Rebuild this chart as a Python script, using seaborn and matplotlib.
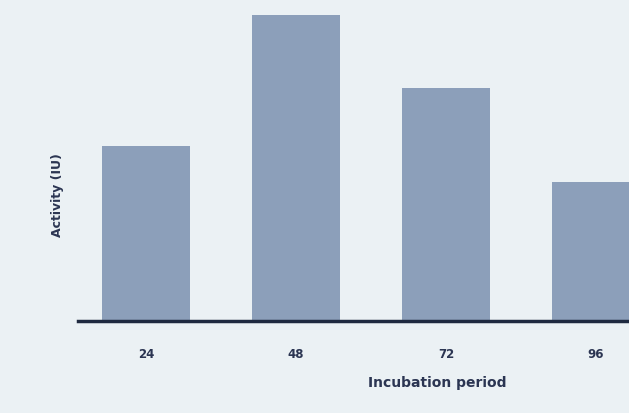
import pandas as pd
import matplotlib.pyplot as plt
import seaborn as sns

# valores (sin eje y visible, unidades relativas)
periodos = ["24", "48", "72", "96"]
actividad = [175, 306, 233, 139]

df = pd.DataFrame({"Periodo": periodos, "Actividad": actividad})

sns.set_style("white")
fondo = "#ebf1f4"
fig = plt.figure(figsize=(6.29, 4.14), dpi=100)
fig.patch.set_facecolor(fondo)
ax = fig.add_axes([78 / 629, 92 / 414, 551 / 629, 322 / 414])
ax.set_facecolor(fondo)

sns.barplot(x="Periodo", y="Actividad", data=df, color="#8c9fba",
            saturation=1, width=0.59, linewidth=0, ax=ax)

ax.set_xlim(-0.453, 3.22)
ax.set_ylim(0, 322)

for s in ["top", "right", "left"]:
    ax.spines[s].set_visible(False)
ax.spines["bottom"].set_linewidth(2.5)
ax.spines["bottom"].set_color("#1f2a40")

ax.set_yticks([])
ax.tick_params(axis="x", length=0, pad=19, labelsize=8.5, labelcolor="#2b3552")
for t in ax.get_xticklabels():
    t.set_fontweight("bold")

ax.set_xlabel("Incubation period", fontsize=10, fontweight="bold", color="#2b3552")
ax.xaxis.set_label_coords((437 - 78) / 551, -54 / 322)
ax.set_ylabel("Activity (IU)", fontsize=9, fontweight="bold", color="#2b3552")
ax.yaxis.set_label_coords(-14 / 551, (322 - 195) / 322)

fig.savefig("out.png", dpi=100, facecolor=fig.get_facecolor())
